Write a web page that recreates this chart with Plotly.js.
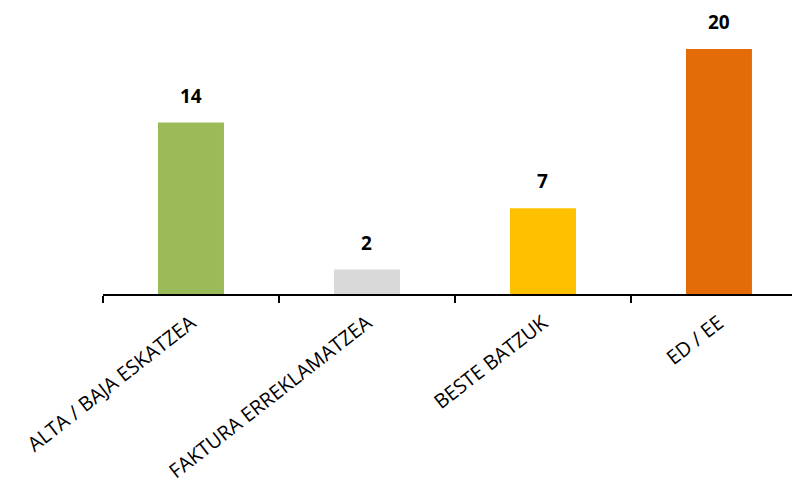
<!DOCTYPE html>
<html>
<head>
<meta charset="utf-8">
<script src="https://cdn.plot.ly/plotly-3.0.1.min.js"></script>
<style>html,body{margin:0;padding:0;background:#fff;overflow:hidden}</style>
</head>
<body>
<div id="chart" style="width:792px;height:481px"></div>
<script>
const categories = ["ALTA / BAJA ESKATZEA", "FAKTURA ERREKLAMATZEA", "BESTE BATZUK", "ED / EE"];
const values = [14, 2, 7, 20];
const colors = ["#9BBB59", "#D9D9D9", "#FFC000", "#E36C09"];

const trace = {
  type: "bar",
  x: categories,
  y: values,
  width: 0.375,
  marker: {color: colors},
  hoverinfo: "skip"
};

const annotations = categories.map((c, i) => ({
  x: c, y: values[i], xref: "x", yref: "y",
  text: "<b>" + values[i] + "</b>",
  showarrow: false, yanchor: "middle", yshift: 27,
  font: {family: "'Open Sans', sans-serif", size: 19, color: "#000"}
}));

const layout = {
  width: 792, height: 481,
  margin: {l: 103, r: 0, t: 0, b: 187},
  paper_bgcolor: "#fff", plot_bgcolor: "#fff",
  showlegend: false,
  xaxis: {
    type: "category",
    range: [-0.5, 3.415],
    showline: true, linecolor: "#000", linewidth: 1.5,
    ticks: "outside", tickson: "boundaries", ticklen: 7, tickcolor: "#000", tickwidth: 1.5,
    tickangle: -38,
    tickfont: {family: "'Open Sans', sans-serif", size: 20, color: "#000"},
    ticklabelstandoff: 8,
    showgrid: false, zeroline: false, fixedrange: true
  },
  yaxis: {
    range: [0, 24], visible: false, showgrid: false, zeroline: false, fixedrange: true
  },
  annotations: annotations
};

Plotly.newPlot("chart", [trace], layout, {displayModeBar: false, staticPlot: true});
</script>
</body>
</html>
